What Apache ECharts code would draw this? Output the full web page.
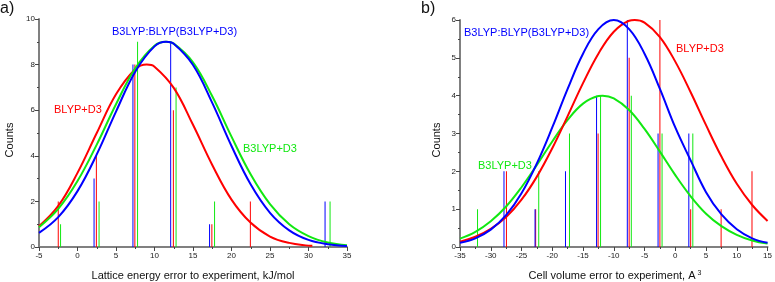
<!DOCTYPE html>
<html>
<head>
<meta charset="utf-8">
<script src="https://cdn.jsdelivr.net/npm/echarts@6/dist/echarts.min.js"></script>
<style>
html,body{margin:0;padding:0;background:#fff;}
#chart{width:775px;height:282px;}
</style>
</head>
<body>
<div id="chart"></div>
<script>
// ---- Panel a) Lattice energy error (kJ/mol) ----
const energyBlypX = [-2.5, 2.45, 7.45, 12.45, 17.45, 22.45];
const energyBlypCounts = [2, 4, 8, 6, 1, 2];
const energyB3lypX = [-2.2, 2.8, 7.8, 12.8, 17.8, 32.8];
const energyB3lypCounts = [1, 2, 9, 7, 2, 2];
const energyMixX = [2.15, 7.2, 12.1, 17.15, 32.15];
const energyMixCounts = [3, 8, 9, 1, 2];

const energyBlypCurveX = [-5, -2.5, 0, 2.5, 5, 7.5, 9, 10, 12.5, 15, 17.5, 20, 22.5, 25, 27.5, 30, 30.5];
const energyBlypCurveY = [0.91, 1.8, 3.25, 5.0, 6.7, 7.8, 8, 7.91, 6.98, 5.36, 3.6, 2.08, 1.06, 0.46, 0.18, 0.06, 0.05];
const energyB3lypCurveX = [-5, -2.5, 0, 2.5, 5, 7.5, 10, 11.5, 12.5, 15, 17.5, 20, 22.5, 25, 27.5, 30, 32.5, 35];
const energyB3lypCurveY = [0.87, 1.67, 2.89, 4.49, 6.26, 7.84, 8.83, 9, 8.92, 8.10, 6.61, 4.84, 3.18, 1.88, 1.00, 0.48, 0.20, 0.08];
const energyMixCurveX = [-5, -2.5, 0, 2.5, 5, 7.5, 10, 11.5, 12.5, 15, 17.5, 20, 22.5, 25, 27.5, 30, 32.5, 35];
const energyMixCurveY = [0.62, 1.31, 2.45, 4.06, 5.94, 7.69, 8.80, 9, 8.91, 7.98, 6.32, 4.43, 2.74, 1.50, 0.73, 0.31, 0.12, 0.04];

// ---- Panel b) Cell volume error (A^3) ----
const volumeBlypX = [-27.45, -22.7, -12.55, -7.5, -2.5, 2.5, 7.45, 12.47];
const volumeBlypCounts = [2, 1, 3, 5, 6, 1, 1, 2];
const volumeB3lypX = [-32.15, -22.2, -17.2, -12.15, -7.15, -2.15, 2.85];
const volumeB3lypCounts = [1, 2, 3, 4, 4, 3, 3];
const volumeMixX = [-27.85, -22.8, -17.85, -12.8, -7.8, -2.8, 2.2];
const volumeMixCounts = [2, 1, 2, 4, 6, 3, 3];

const volumeBlypCurveX = [-35, -32.5, -30, -27.5, -25, -22.5, -20, -17.5, -15, -12.5, -10, -7.5, -6.6, -5, -2.5, 0, 2.5, 5, 7.5, 10, 12.5, 15];
const volumeBlypCurveY = [0.14, 0.27, 0.48, 0.79, 1.25, 1.86, 2.61, 3.46, 4.33, 5.11, 5.69, 5.98, 6, 5.93, 5.55, 4.90, 4.09, 3.22, 2.39, 1.67, 1.11, 0.69];
const volumeB3lypCurveX = [-35, -32.5, -30, -27.5, -25, -22.5, -20, -17.5, -15, -12.5, -11.8, -10, -7.5, -5, -2.5, 0, 2.5, 5, 7.5, 10, 12.5, 15];
const volumeB3lypCurveY = [0.22, 0.40, 0.68, 1.07, 1.58, 2.17, 2.79, 3.36, 3.79, 3.99, 4, 3.93, 3.62, 3.12, 2.52, 1.90, 1.34, 0.88, 0.55, 0.32, 0.17, 0.09];
const volumeMixCurveX = [-35, -32.5, -30, -27.5, -25, -22.5, -20, -17.5, -15, -12.5, -10, -7.5, -5, -2.5, 0, 2.5, 5, 7.5, 10, 12.5, 15];
const volumeMixCurveY = [0.11, 0.23, 0.46, 0.84, 1.42, 2.21, 3.16, 4.18, 5.11, 5.76, 6, 5.76, 5.11, 4.18, 3.16, 2.29, 1.45, 0.86, 0.47, 0.23, 0.11];

// ---- styles ----
const RED = '#ff0000', GREEN = '#11e811', BLUE = '#0000ff';
const FONT = '"Liberation Sans", Arial, sans-serif';

function zip(xs, ys) { return xs.map((x, i) => [x, ys[i]]); }

function sticks(name, xs, ys, color, gi) {
  return {
    type: 'custom', name, xAxisIndex: gi, yAxisIndex: gi, z: 2,
    data: zip(xs, ys),
    renderItem: function (params, api) {
      const x = api.value(0), y = api.value(1);
      const p0 = api.coord([x, 0]);
      const p1 = api.coord([x, y]);
      return { type: 'rect', shape: { x: p0[0] - 0.5, y: p1[1], width: 1, height: p0[1] - p1[1] }, style: { fill: color } };
    }
  };
}
function curve(name, xs, ys, color, gi, z) {
  return {
    type: 'line', name, xAxisIndex: gi, yAxisIndex: gi, z: z,
    data: zip(xs, ys), smooth: 0.4, showSymbol: false, symbol: 'none',
    lineStyle: { color, width: 2 }, silent: true, animation: false
  };
}
function xAxisCfg(gi, min, max) {
  return {
    type: 'value', gridIndex: gi, min, max, interval: 5,
    axisLine: { show: true, onZero: false, lineStyle: { color: '#808080', width: 2 } },
    axisTick: { show: true, length: 4, lineStyle: { color: '#444' } },
    minorTick: { show: true, splitNumber: 2, length: 2, lineStyle: { color: '#444' } },
    splitLine: { show: false },
    axisLabel: { fontSize: 8, color: '#222', margin: 5, fontFamily: FONT }
  };
}
function yAxisCfg(gi, max, interval) {
  return {
    type: 'value', gridIndex: gi, min: 0, max, interval,
    axisLine: { show: true, onZero: false, lineStyle: { color: '#808080', width: 2 } },
    axisTick: { show: true, length: 4, lineStyle: { color: '#444' } },
    minorTick: { show: true, splitNumber: 2, length: 2, lineStyle: { color: '#444' } },
    splitLine: { show: false },
    axisLabel: { fontSize: 8, color: '#222', margin: 4, fontFamily: FONT }
  };
}
function txt(text, x, y, color, size, extra) {
  return Object.assign({
    type: 'text', x, y, silent: true,
    style: { text, fill: color, font: size + 'px ' + FONT, textVerticalAlign: 'middle', textAlign: 'left' }
  }, extra || {});
}

const chart = echarts.init(document.getElementById('chart'), null, { renderer: 'canvas' });
chart.setOption({
  animation: false,
  backgroundColor: '#ffffff',
  grid: [
    { left: 39, right: 428, top: 19, bottom: 35 },
    { left: 460, right: 6, top: 20, bottom: 35 }
  ],
  xAxis: [xAxisCfg(0, -5, 35), xAxisCfg(1, -35, 15)],
  yAxis: [yAxisCfg(0, 10, 2), yAxisCfg(1, 6, 1)],
  series: [
    sticks('BLYP+D3', energyBlypX, energyBlypCounts, RED, 0),
    sticks('B3LYP+D3', energyB3lypX, energyB3lypCounts, GREEN, 0),
    sticks('B3LYP:BLYP(B3LYP+D3)', energyMixX, energyMixCounts, BLUE, 0),
    curve('BLYP+D3 fit', energyBlypCurveX, energyBlypCurveY, RED, 0, 3),
    curve('B3LYP+D3 fit', energyB3lypCurveX, energyB3lypCurveY, GREEN, 0, 4),
    curve('B3LYP:BLYP fit', energyMixCurveX, energyMixCurveY, BLUE, 0, 5),
    sticks('BLYP+D3', volumeBlypX, volumeBlypCounts, RED, 1),
    sticks('B3LYP+D3', volumeB3lypX, volumeB3lypCounts, GREEN, 1),
    sticks('B3LYP:BLYP(B3LYP+D3)', volumeMixX, volumeMixCounts, BLUE, 1),
    curve('B3LYP+D3 fit', volumeB3lypCurveX, volumeB3lypCurveY, GREEN, 1, 3),
    curve('BLYP+D3 fit', volumeBlypCurveX, volumeBlypCurveY, RED, 1, 4),
    curve('B3LYP:BLYP fit', volumeMixCurveX, volumeMixCurveY, BLUE, 1, 5)
  ],
  graphic: [
    txt('a)', 0, 9, '#111', 16),
    txt('b)', 421, 9, '#111', 16),
    txt('B3LYP:BLYP(B3LYP+D3)', 112, 32, BLUE, 11),
    txt('BLYP+D3', 54, 110, RED, 11),
    txt('B3LYP+D3', 243, 149, GREEN, 11),
    txt('B3LYP:BLYP(B3LYP+D3)', 464, 33, BLUE, 11),
    txt('BLYP+D3', 676, 49, RED, 11),
    txt('B3LYP+D3', 478, 166, GREEN, 11),
    { type: 'text', x: 10, y: 140, rotation: Math.PI / 2, silent: true,
      style: { text: 'Counts', fill: '#111', font: '11px ' + FONT, textAlign: 'center', textVerticalAlign: 'middle' } },
    { type: 'text', x: 437, y: 140, rotation: Math.PI / 2, silent: true,
      style: { text: 'Counts', fill: '#111', font: '11px ' + FONT, textAlign: 'center', textVerticalAlign: 'middle' } },
    { type: 'text', x: 193, y: 276, silent: true,
      style: { text: 'Lattice energy error to experiment, kJ/mol', fill: '#111', font: '11px ' + FONT, textAlign: 'center', textVerticalAlign: 'middle' } },
    { type: 'text', x: 615, y: 276, silent: true,
      style: { rich: { n: { fontSize: 11, fontFamily: FONT, fill: '#111' }, s: { fontSize: 7, fontFamily: FONT, fill: '#111', padding: [0, 0, 6, 2] } },
               text: '{n|Cell volume error to experiment, A}{s|3}', textAlign: 'center', textVerticalAlign: 'middle' } }
  ]
});
</script>
</body>
</html>
